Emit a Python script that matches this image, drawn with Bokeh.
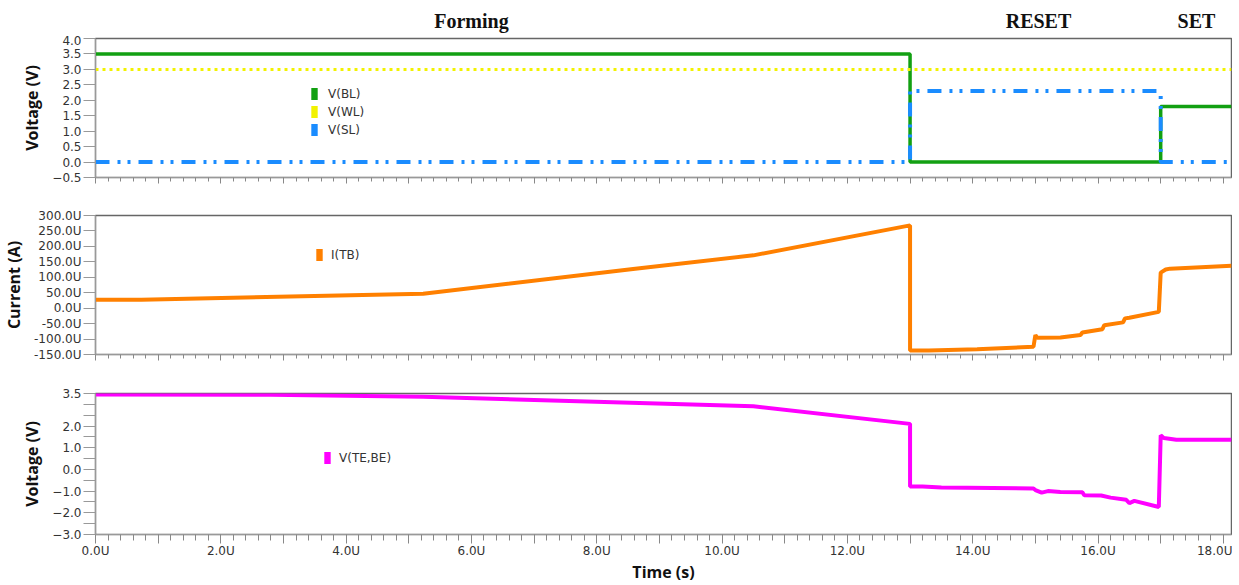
from bokeh.plotting import figure
from bokeh.models import Range1d, FixedTicker, Legend, LegendItem
from bokeh.core.properties import value
from bokeh.layouts import column
from bokeh.embed import file_html
from bokeh.resources import INLINE

# ---------------- data ----------------
# Top panel: voltages (V) vs time (us)
BL_T = [0.0, 13.0, 13.0, 17.0, 17.0, 18.13]
BL_V = [3.5, 3.5, 0.0, 0.0, 1.8, 1.8]
WL_T = [0.0, 18.13]
WL_V = [3.0, 3.0]
SL_T = [0.0, 13.0, 13.0, 16.97, 17.0, 17.0, 18.13]
SL_V = [0.0, 0.0, 2.3, 2.3, 2.2, 0.0, 0.0]

# Middle panel: current I(TB) in uA
I_T = [0.0, 0.73, 5.23, 8.58, 10.5, 13.0, 13.0, 13.3, 14.07, 14.97, 15.0, 15.03,
       15.4, 15.72, 15.75, 16.07, 16.1, 16.4, 16.43, 16.5, 16.97, 17.0, 17.08, 17.15, 18.13]
I_V = [27, 27, 47, 127, 171, 268, -137, -137, -133, -125, -87, -96,
       -95, -87, -79, -68, -55, -46, -33, -31, -12, 115, 125, 128, 137]

# Bottom panel: V(TE,BE)
V_T = [0.0, 2.8, 5.23, 10.5, 13.0, 13.0, 13.2, 13.5, 14.97, 15.0, 15.1, 15.2,
       15.4, 15.75, 15.78, 16.05, 16.2, 16.45, 16.5, 16.58, 16.97, 17.0, 17.05, 17.25, 18.13]
V_V = [3.45, 3.44, 3.35, 2.91, 2.10, -0.79, -0.79, -0.83, -0.88, -0.95, -1.07, -1.0,
       -1.04, -1.05, -1.19, -1.2, -1.3, -1.4, -1.55, -1.45, -1.73, 1.57, 1.45, 1.37, 1.37]

# ticks / labels
X_MAJOR = list(range(0, 19))
X_MINOR = [round(i * 0.2, 1) for i in range(0, 91)]
X_LABELS = ["0.0U", "", "2.0U", "", "4.0U", "", "6.0U", "", "8.0U", "", "10.0U", "",
            "12.0U", "", "14.0U", "", "16.0U", "", "18.0U"]

Y1_TICKS = [-0.5, 0.0, 0.5, 1.0, 1.5, 2.0, 2.5, 3.0, 3.5, 4.0]
Y1_LABELS = ["\u22120.5", "0.0", "0.5", "1.0", "1.5", "2.0", "2.5", "3.0", "3.5", "4.0"]
Y2_TICKS = [-150, -100, -50, 0, 50, 100, 150, 200, 250, 300]
Y2_LABELS = ["-150.0U", "-100.0U", "-50.0U", "0.0U", "50.0U", "100.0U", "150.0U",
             "200.0U", "250.0U", "300.0U"]
Y3_TICKS = [-3.0, -2.5, -2.0, -1.5, -1.0, -0.5, 0.0, 0.5, 1.0, 1.5, 2.0, 2.5, 3.0, 3.5]
Y3_LABELS = ["\u22123.0", "", "\u22122.0", "", "\u22121.0", "", "0.0", "", "1.0", "",
             "2.0", "", "", "3.5"]

PHASES = ["Forming", "RESET", "SET"]
PHASE_X = [6.0, 15.05, 17.57]

GREEN = "#12a012"
YELLOW = "#f2f200"
BLUE = "#1a8cff"
ORANGE = "#ff8000"
MAGENTA = "#ff00ff"

TICK_FONT = "DejaVu Sans"
XR = Range1d(0, 18.13)
W = 1232
LEFT = 95


def mkfig(h, top, bottom, yr, yticks, ylabels, ylabel, show_x):
    p = figure(width=W, height=h, x_range=XR, y_range=Range1d(*yr),
               output_backend="svg", toolbar_location=None,
               min_border_left=LEFT, min_border_right=1,
               min_border_top=top, min_border_bottom=bottom)
    p.grid.visible = False
    p.outline_line_color = "#666666"
    p.outline_line_width = 1.5
    p.background_fill_color = "white"
    p.border_fill_color = "white"

    ya = p.yaxis[0]
    ya.ticker = FixedTicker(ticks=yticks, minor_ticks=[])
    ya.major_label_overrides = {t: l for t, l in zip(yticks, ylabels)}
    ya.major_tick_out = 12
    ya.major_tick_in = 0
    ya.major_tick_line_color = "#999999"
    ya.axis_line_color = "#999999"
    ya.major_label_standoff = 2
    ya.major_label_text_font = TICK_FONT
    ya.major_label_text_font_size = "12px"
    ya.major_label_text_color = "#333333"
    ya.axis_label = ylabel
    ya.axis_label_text_font = "Open Sans"
    ya.axis_label_text_font_style = "bold"
    ya.axis_label_text_font_size = "16px"
    ya.axis_label_text_color = "#111111"
    ya.axis_label_standoff = 6

    xa = p.xaxis[0]
    xa.ticker = FixedTicker(ticks=X_MAJOR, minor_ticks=X_MINOR)
    xa.axis_line_color = "#999999"
    xa.major_tick_line_color = "#888888"
    xa.minor_tick_line_color = "#888888"
    xa.major_tick_in = 0
    xa.minor_tick_in = 0
    if show_x:
        xa.major_label_overrides = {t: l for t, l in zip(X_MAJOR, X_LABELS)}
        xa.major_tick_out = 9
        xa.minor_tick_out = 6
        xa.major_label_standoff = 0
        xa.major_label_text_font = TICK_FONT
        xa.major_label_text_font_size = "12px"
        xa.major_label_text_color = "#333333"
        xa.axis_label = "Time (s)"
        xa.axis_label_text_font = "Open Sans"
        xa.axis_label_text_font_style = "bold"
        xa.axis_label_text_font_size = "16px"
        xa.axis_label_text_color = "#111111"
        xa.axis_label_standoff = 0
    else:
        xa.major_label_overrides = {t: "" for t in X_MAJOR}
        xa.major_label_text_font_size = "0px"
        xa.major_tick_out = 6
        xa.minor_tick_out = 4
    return p


def add_legend(p, names, colors, x, y, standoff):
    items = []
    for n, c in zip(names, colors):
        # legend swatch proxy (no visible mark in the plot area)
        r = p.quad(left=[float("nan")], right=[float("nan")], top=[float("nan")],
                   bottom=[float("nan")], fill_color=c, line_color=None)
        items.append(LegendItem(label=n, renderers=[r]))
    lg = Legend(items=items, location=(x, y), orientation="vertical",
                glyph_width=8, glyph_height=15, label_height=15, label_width=20,
                spacing=3, padding=0, margin=0, label_standoff=standoff,
                border_line_color=None, background_fill_alpha=0,
                label_text_font=TICK_FONT, label_text_font_size="12px",
                label_text_color="#333333")
    p.add_layout(lg)


# ---------------- header with phase names ----------------
ph = figure(width=W, height=35, x_range=XR, y_range=Range1d(0, 35), title=None,
            output_backend="svg", toolbar_location=None,
            x_axis_location=None, y_axis_location=None,
            min_border_left=LEFT, min_border_right=1, min_border_top=0, min_border_bottom=0)
ph.grid.visible = False
ph.outline_line_color = None
ph.text(x=PHASE_X, y=[15, 15, 15], text=PHASES, text_align="center",
        text_baseline="middle", text_font=value("Liberation Serif"),
        text_font_style="bold", text_font_size="20px", text_color="#111111")

# ---------------- top panel ----------------
p1 = mkfig(160, 3, 18, (-0.5, 4.0), Y1_TICKS, Y1_LABELS, "Voltage (V)", False)
p1.line(BL_T, BL_V, line_color=GREEN, line_width=3.5)
p1.line(WL_T, WL_V, line_color=YELLOW, line_width=3, line_dash="3 4")
p1.line(SL_T, SL_V, line_color=BLUE, line_width=4, line_dash="14 8 3 7 3 8")
add_legend(p1, ["V(BL)", "V(WL)", "V(SL)"], [GREEN, YELLOW, BLUE], 215, 40, 10)

# ---------------- middle panel ----------------
p2 = mkfig(177, 20, 18, (-150, 300), Y2_TICKS, Y2_LABELS, "Current (A)", False)
p2.line(I_T, I_V, line_color=ORANGE, line_width=4)
add_legend(p2, ["I(TB)"], [ORANGE], 220, 92, 8)

# ---------------- bottom panel ----------------
p3 = mkfig(213, 21, 50, (-3.0, 3.5), Y3_TICKS, Y3_LABELS, "Voltage (V)", True)
p3.line(V_T, V_V, line_color=MAGENTA, line_width=4)
add_legend(p3, ["V(TE,BE)"], [MAGENTA], 228, 69, 8)

layout = column(ph, p1, p2, p3, spacing=0)
open("out.html", "w").write(file_html(layout, INLINE))
